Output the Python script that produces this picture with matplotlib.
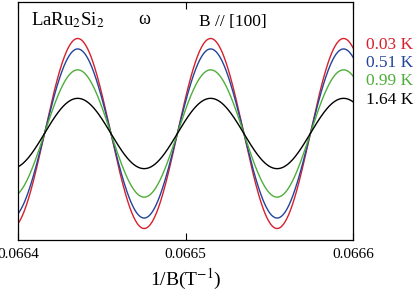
import matplotlib
matplotlib.use("Agg")
import matplotlib.pyplot as plt
import numpy as np

plt.rcParams['font.family'] = ['Liberation Serif', 'DejaVu Serif']
plt.rcParams['mathtext.fontset'] = 'stix'

# dHvA oscillation (arbitrary units)
temps = ['0.03 K', '0.51 K', '0.99 K', '1.64 K']
amplitudes = [1.00, 0.89, 0.67, 0.37]
colors = ['#d8202c', '#22449a', '#4fae3a', '#000000']
freq = 12600.0          # T, frequency of the omega branch
peak_pos = 0.06643564   # 1/B of the first maximum

x = np.linspace(0.0664, 0.0666, 1000)

fig = plt.figure(figsize=(4.15, 2.9), dpi=100)
ax = fig.add_axes([18 / 415, 50 / 290, 335 / 415, 238 / 290])

for amp, c in zip(amplitudes, colors):
    ax.plot(x, amp * np.cos(2 * np.pi * freq * (x - peak_pos)), color=c, lw=1.0)

ax.set_xlim(0.0664, 0.0666)
ax.set_ylim(-1.121, 1.384)
ax.set_xticks([0.0664, 0.0665, 0.0666])
ax.set_xticklabels(['0.0664', '0.0665', '0.0666'], fontsize=11)
ax.set_yticks([])
ax.tick_params(axis='x', direction='in', top=True, length=5, width=0.8, pad=6)
for s in ax.spines.values():
    s.set_linewidth(0.9)
ax.set_xlabel('1/B(T$^{-1}$)', fontsize=14, labelpad=4)

ax.text(0.04, 0.925, 'LaRu$_2$Si$_2$', transform=ax.transAxes, fontsize=13.5, va='center')
ax.text(0.358, 0.925, '\u03c9', transform=ax.transAxes, fontsize=13, va='center')
ax.text(0.54, 0.915, 'B // [100]', transform=ax.transAxes, fontsize=12.5, va='center')

label_y = [45, 63, 81, 100]
for t, c, yy in zip(temps, colors, label_y):
    fig.text(366 / 415, 1 - yy / 290, t, color=c, fontsize=12.5, va='center')

fig.savefig('out.png', dpi=100)
